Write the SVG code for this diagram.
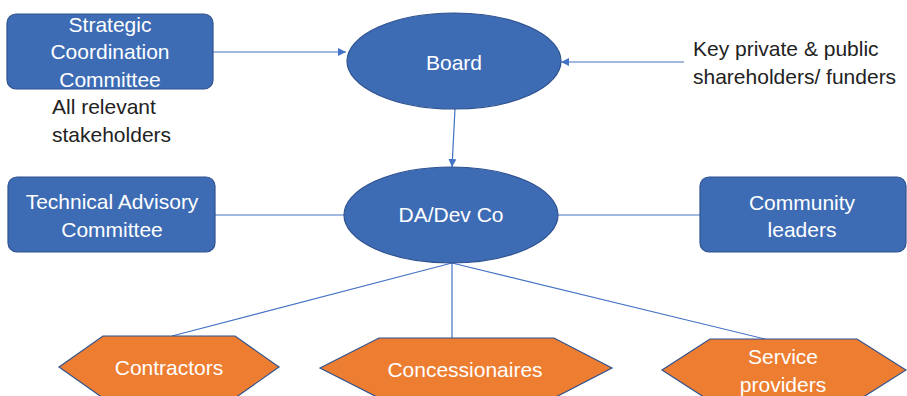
<svg xmlns="http://www.w3.org/2000/svg" width="907" height="396" viewBox="0 0 907 396">
  <style>
    .box { fill: #3D6CB5; stroke: #2F528F; stroke-width: 1.2; }
    .hex { fill: #ED7D31; stroke: #2F528F; stroke-width: 1.2; }
    .conn { stroke: #4472C4; stroke-width: 1.2; fill: none; }
    .lbl { font-family: "Liberation Sans", Arial, sans-serif; font-size: 21px; fill: #FFFFFF; text-anchor: middle; }
    .note { font-family: "Liberation Sans", Arial, sans-serif; font-size: 21px; fill: #222222; }
  </style>
  <defs>
    <marker id="arrow" viewBox="0 0 10 10" refX="10" refY="5" markerWidth="8" markerHeight="8" markerUnits="userSpaceOnUse" orient="auto">
      <path d="M0,0 L10,5 L0,10 z" fill="#4472C4"/>
    </marker>
  </defs>
  <rect width="907" height="396" fill="#FFFFFF"/>

  <!-- connectors -->
  <g id="connectors">
    <line class="conn" x1="213" y1="52" x2="346" y2="52" marker-end="url(#arrow)"/>
    <line class="conn" x1="684" y1="62" x2="561" y2="62" marker-end="url(#arrow)"/>
    <line class="conn" x1="455" y1="109" x2="452" y2="167" marker-end="url(#arrow)"/>
    <line class="conn" x1="215" y1="215" x2="344" y2="215"/>
    <line class="conn" x1="558" y1="215" x2="700" y2="215"/>
    <line class="conn" x1="452" y1="263" x2="172" y2="336"/>
    <line class="conn" x1="452" y1="263" x2="452" y2="338"/>
    <line class="conn" x1="452" y1="263" x2="765" y2="339"/>
  </g>

  <g id="strategic-coordination-committee">
    <rect class="box" x="7" y="14" width="206" height="75" rx="9"/>
    <text class="lbl" x="110" y="32">Strategic</text>
    <text class="lbl" x="110" y="59">Coordination</text>
    <text class="lbl" x="110" y="87">Committee</text>
  </g>

  <g id="stakeholders-note">
    <text class="note" x="52" y="114">All relevant</text>
    <text class="note" x="52" y="142">stakeholders</text>
  </g>

  <g id="board">
    <ellipse class="box" cx="454" cy="61" rx="107" ry="48"/>
    <text class="lbl" x="454" y="70">Board</text>
  </g>

  <g id="shareholders-note">
    <text class="note" x="693" y="56">Key private &amp; public</text>
    <text class="note" x="693" y="84">shareholders/ funders</text>
  </g>

  <g id="technical-advisory-committee">
    <rect class="box" x="8" y="177" width="207" height="75" rx="9"/>
    <text class="lbl" x="112" y="209">Technical Advisory</text>
    <text class="lbl" x="112" y="237">Committee</text>
  </g>

  <g id="da-dev-co">
    <ellipse class="box" cx="451" cy="215" rx="107" ry="48"/>
    <text class="lbl" x="451" y="222">DA/Dev Co</text>
  </g>

  <g id="community-leaders">
    <rect class="box" x="700" y="177" width="206" height="75" rx="9"/>
    <text class="lbl" x="802" y="210">Community</text>
    <text class="lbl" x="802" y="237">leaders</text>
  </g>

  <g id="contractors">
    <polygon class="hex" points="59,367 103,336 235,336 279,367 235,398 103,398"/>
    <text class="lbl" x="169" y="375">Contractors</text>
  </g>

  <g id="concessionaires">
    <polygon class="hex" points="320,368 379,338 554,338 612,368 554,398 379,398"/>
    <text class="lbl" x="465" y="377">Concessionaires</text>
  </g>

  <g id="service-providers">
    <polygon class="hex" points="662,370 710,339 857,339 906,370 857,401 710,401"/>
    <text class="lbl" x="783" y="364">Service</text>
    <text class="lbl" x="783" y="392">providers</text>
  </g>
</svg>
